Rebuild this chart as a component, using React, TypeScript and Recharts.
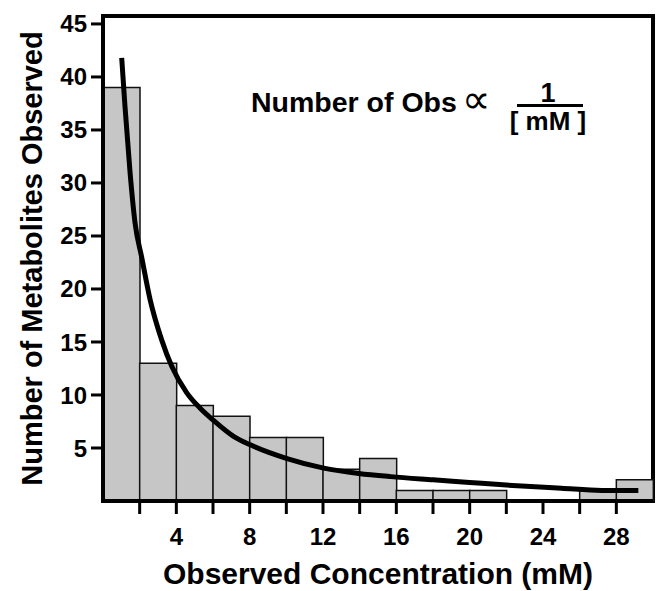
import React from "react";
import {
  ComposedChart,
  Bar,
  Line,
  XAxis,
  YAxis,
  ReferenceArea,
} from "recharts";

// histogram bins (mM), 2 mM wide
const bins = [
  "0-2", "2-4", "4-6", "6-8", "8-10", "10-12", "12-14", "14-16",
  "16-18", "18-20", "20-22", "22-24", "24-26", "26-28", "28-30",
];
const counts = [39, 13, 9, 8, 6, 6, 3, 4, 1, 1, 1, 0, 0, 1, 2];

// 1/[mM] fit curve
const fitConc = [
  1.02, 1.2, 1.48, 1.75, 2.11, 2.57, 3.2, 3.75, 4.57, 5.3, 6.03, 7.12,
  8.03, 10.04, 12.04, 13.95, 15.7, 18.0, 20.0, 22.0, 25.0, 27.2, 29.2,
];
const fitObs = [
  41.8, 37.2, 30.9, 26.2, 23.0, 19.0, 15.2, 12.7, 10.2, 8.75, 7.6, 6.1,
  5.3, 4.0, 3.1, 2.6, 2.3, 2.0, 1.75, 1.5, 1.2, 1.0, 1.0,
];

const xTicks = [2, 4, 6, 8, 10, 12, 14, 16, 18, 20, 22, 24, 26, 28];
const yTicks = [5, 10, 15, 20, 25, 30, 35, 40, 45];

const binData = bins.map((bin, i) => ({ bin, count: counts[i] }));
const fitData = fitConc.map((conc, i) => ({ conc, fit: fitObs[i] }));

const FONT = "'Liberation Sans', Arial, Helvetica, sans-serif";
const tickStyle = { fill: "#000", fontSize: 24, fontWeight: 700, fontFamily: FONT };

export default function App() {
  return (
    <div
      style={{
        position: "absolute",
        left: 0,
        top: 0,
        width: 666,
        height: 591,
        background: "#fff",
        fontFamily: FONT,
      }}
    >
      <ComposedChart
        width={666}
        height={591}
        data={binData}
        margin={{ top: 16, right: 13, left: 0, bottom: 0 }}
        barCategoryGap={0}
        barGap={0}
      >
        <XAxis
          xAxisId="bin"
          dataKey="bin"
          hide
          height={0}
          padding={{ left: 0, right: 0 }}
        />
        <XAxis
          xAxisId="num"
          dataKey="conc"
          type="number"
          domain={[0, 30]}
          ticks={xTicks}
          allowDataOverflow
          height={90}
          tickFormatter={(v: number) => (v % 4 === 0 ? String(v) : "")}
          tick={tickStyle}
          tickSize={13}
          tickMargin={14}
          tickLine={{ stroke: "#000", strokeWidth: 3 }}
          axisLine={{ stroke: "#000", strokeWidth: 4 }}
          label={{
            value: "Observed Concentration (mM)",
            position: "insideBottom",
            offset: 7,
            style: { fill: "#000", fontSize: 30, fontWeight: 700, fontFamily: FONT },
          }}
        />
        <YAxis
          type="number"
          domain={[0, 45.75]}
          ticks={yTicks}
          allowDataOverflow
          width={103}
          tick={tickStyle}
          tickSize={12}
          tickMargin={4}
          tickLine={{ stroke: "#000", strokeWidth: 3 }}
          axisLine={{ stroke: "#000", strokeWidth: 4 }}
          label={{
            value: "Number of Metabolites Observed",
            angle: -90,
            position: "insideLeft",
            offset: 32,
            style: {
              fill: "#000",
              fontSize: 29,
              fontWeight: 700,
              fontFamily: FONT,
              textAnchor: "middle",
            },
          }}
        />
        <Bar
          xAxisId="bin"
          dataKey="count"
          fill="#c6c6c6"
          stroke="#111"
          strokeWidth={1.5}
          isAnimationActive={false}
        />
        <Line
          xAxisId="num"
          data={fitData}
          dataKey="fit"
          type="monotone"
          stroke="#000"
          strokeWidth={5}
          dot={false}
          activeDot={false}
          isAnimationActive={false}
        />
        <ReferenceArea
          xAxisId="num"
          x1={0}
          x2={30}
          y1={0}
          y2={45.75}
          fill="none"
          stroke="#000"
          strokeWidth={4}
          fillOpacity={0}
        />
      </ComposedChart>

      {/* fit annotation */}
      <div
        style={{
          position: "absolute",
          left: 251,
          top: 88,
          fontSize: 28.5,
          fontWeight: 700,
          lineHeight: 1,
          whiteSpace: "nowrap",
        }}
      >
        Number of Obs
      </div>
      <div
        style={{
          position: "absolute",
          left: 462,
          top: 79,
          fontSize: 40,
          lineHeight: 1,
          fontFamily: "'DejaVu Sans', sans-serif",
        }}
      >
        ∝
      </div>
      <div
        style={{
          position: "absolute",
          left: 507,
          top: 80,
          width: 82,
          textAlign: "center",
          fontSize: 27,
          fontWeight: 700,
          lineHeight: 1,
        }}
      >
        1
      </div>
      <div
        style={{
          position: "absolute",
          left: 517,
          top: 104,
          width: 66,
          height: 2.5,
          background: "#000",
        }}
      />
      <div
        style={{
          position: "absolute",
          left: 505,
          top: 108,
          width: 86,
          textAlign: "center",
          fontSize: 26,
          fontWeight: 700,
          lineHeight: 1,
          whiteSpace: "nowrap",
        }}
      >
        [ mM ]
      </div>
    </div>
  );
}
